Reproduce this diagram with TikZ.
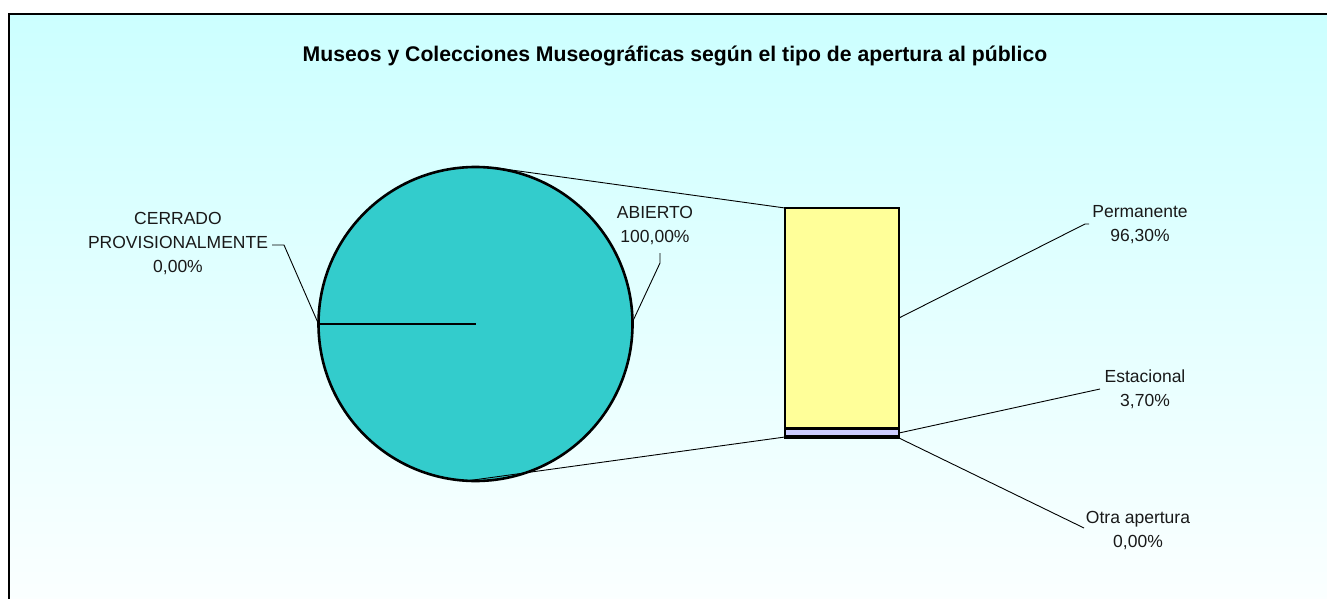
\documentclass[tikz,border=0pt]{standalone}
\usepackage{fontspec}
\setmainfont{Liberation Sans}
\definecolor{bgtop}{RGB}{204,255,255}
\definecolor{bgbot}{RGB}{252,255,255}
\definecolor{piefill}{RGB}{51,204,204}
\definecolor{baryellow}{RGB}{255,255,153}
\definecolor{barlav}{RGB}{204,204,255}
\begin{document}
\begin{tikzpicture}[x=1pt,y=-1pt,
  lbl/.style={font=\fontsize{17.5}{24}\selectfont, align=center, inner sep=0pt, text=black!90},
  lead/.style={draw=black, line width=0.9pt},
  edge/.style={draw=black, line width=2.6pt}]
\useasboundingbox (0,0) rectangle (1327,599);
\clip (0,0) rectangle (1327,599);
% background frame
\shade[top color=bgtop, bottom color=bgbot] (9,14) rectangle (1345,615);
\draw[line width=1.8pt] (9,615) -- (9,14) -- (1345,14);
% title
\node[font=\bfseries\fontsize{21.2}{24}\selectfont, inner sep=0pt] (title) at (675,56) {Museos y Colecciones Museográficas según el tipo de apertura al público};
% pie
\coordinate (pc) at (475.5,324);
\fill[piefill] (pc) circle[radius=157];
\draw[edge] (pc) circle[radius=157];
\coordinate (pl) at (318.5,324);
\draw[edge] (pc) -- (pl);
% bar
\coordinate (btl) at (785,208);
\coordinate (bbl) at (785,437);
\fill[baryellow] (785,208) rectangle (899,428.5);
\fill[barlav] (785,428.5) rectangle (899,436);
\draw[edge] (785,428.5) -- (899,428.5);
\draw[draw=black, line width=3.5pt] (785,436.8) -- (899,436.8);
\draw[edge] (785,208) rectangle (899,437.5);
% connectors pie-bar
\coordinate (ptop) at (497,168);
\coordinate (pbot) at (466,481);
\draw[lead] (ptop) -- (btl);
\draw[lead] (pbot) -- (bbl);
% labels
\node[lbl] (cerr) at (178,244) {CERRADO\\PROVISIONALMENTE\\0,00\%};
\node[lbl] (abie) at (655,226) {ABIERTO\\100,00\%};
\node[lbl] (perm) at (1140,225) {Permanente\\96,30\%};
\node[lbl] (esta) at (1145,389) {Estacional\\3,70\%};
\node[lbl] (otra) at (1138,531) {Otra apertura\\0,00\%};
% leader lines
\coordinate (c1) at (272,245);
\coordinate (c2) at (284,245);
\draw[lead] (c1) -- (c2) -- (pl);
\coordinate (a1) at (660,253);
\coordinate (a2) at (660,263);
\coordinate (a3) at (631.5,324);
\draw[lead] (a1) -- (a2) -- (a3);
\coordinate (p1) at (899,318);
\coordinate (p2) at (1085,224);
\coordinate (p3) at (1089,224);
\draw[lead] (p1) -- (p2) -- (p3);
\coordinate (e1) at (899,433);
\coordinate (e2) at (1100,389);
\draw[lead] (e1) -- (e2);
\coordinate (o1) at (899,438);
\coordinate (o2) at (1084,528);
\draw[lead] (o1) -- (o2);
\end{tikzpicture}
\end{document}
